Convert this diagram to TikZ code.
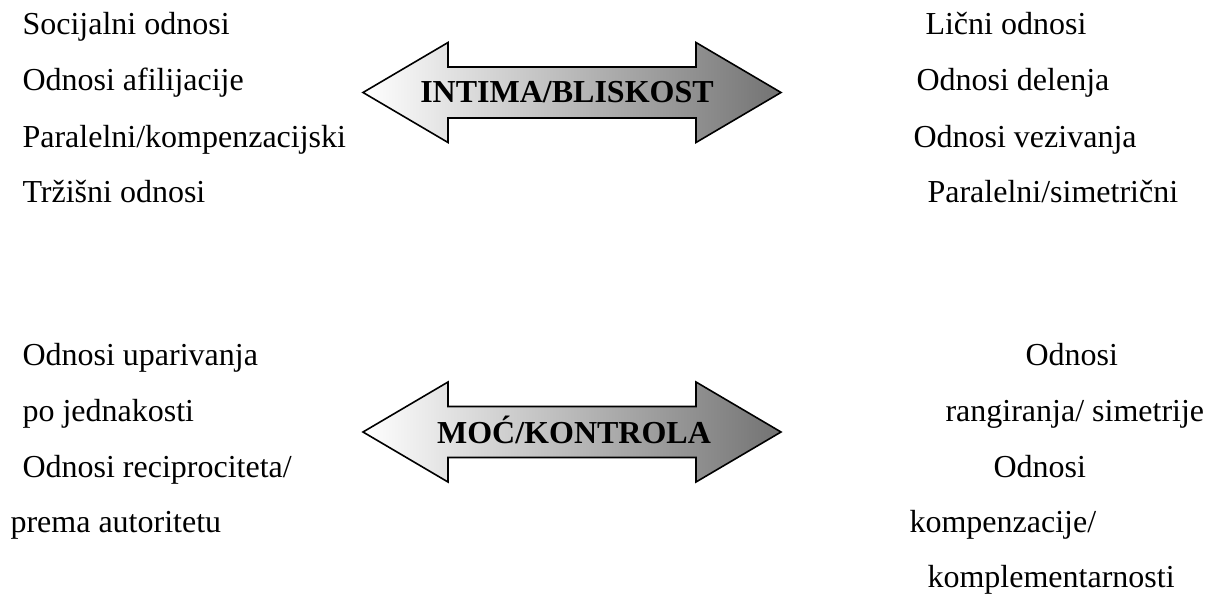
\documentclass[tikz,border=0pt]{standalone}
\usepackage{fontspec}
\setmainfont{Liberation Serif}

\tikzset{
  lbl/.style={anchor=base west, inner sep=0pt, font=\fontsize{12}{14}\selectfont},
  arrowtext/.style={anchor=base, inner sep=0pt, font=\fontsize{12}{14}\selectfont\bfseries},
  arrowbody/.style={draw=black, line width=0.6pt, left color=white, right color=black!55},
  twoway/.pic={
    \draw[arrowbody] (-209,0) -- (-124,-50) -- (-124,-25.5) -- (124,-25.5) -- (124,-50)
      -- (209,0) -- (124,50) -- (124,25.5) -- (-124,25.5) -- (-124,50) -- cycle;
  }
}

\begin{document}
\begin{tikzpicture}[x=0.375pt, y=-0.375pt]
		\useasboundingbox (0,0) rectangle (1212,595);
		% arrows
		\coordinate (IB) at (572,92.5);
		\coordinate (MK) at (572,432);
		\pic at (IB) {twoway};
		\pic at (MK) {twoway};
		\node[arrowtext] (intima) at (567,103) {INTIMA/BLISKOST};
		\node[arrowtext] (moc) at (574,443) {MOĆ/KONTROLA};
		% upper left
		\node[lbl] (soc) at (22,35) {Socijalni odnosi};
		\node[lbl] (afi) at (22,91) {Odnosi afilijacije};
		\node[lbl] (parkomp) at (22,147) {Paralelni/kompenzacijski};
		\node[lbl] (trz) at (22,202) {Tržišni odnosi};
		% upper right
		\node[lbl] (licni) at (925,35) {Lični odnosi};
		\node[lbl] (del) at (916,91) {Odnosi delenja};
		\node[lbl] (vez) at (913,147) {Odnosi vezivanja};
		\node[lbl] (parsim) at (927,202) {Paralelni/simetrični};
		% lower left
		\node[lbl] (upar) at (22,365) {Odnosi uparivanja};
		\node[lbl] (jed) at (22,421) {po jednakosti};
		\node[lbl] (rec) at (22,477) {Odnosi reciprociteta/};
		\node[lbl] (aut) at (10,532) {prema autoritetu};
		% lower right
		\node[lbl] (odn1) at (1025,365) {Odnosi};
		\node[lbl] (rang) at (945,421) {rangiranja/ simetrije};
		\node[lbl] (odn2) at (993,477) {Odnosi};
		\node[lbl] (komp) at (909,532) {kompenzacije/};
		\node[lbl] (kompl) at (927,587) {komplementarnosti};
	\end{tikzpicture}
\end{document}
